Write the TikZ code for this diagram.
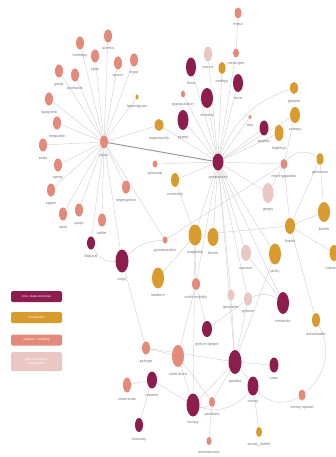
\documentclass[tikz,border=0pt]{standalone}
\usepackage{fontspec}
\setmainfont{Liberation Sans}
\usetikzlibrary{shapes.geometric,backgrounds}
\definecolor{coreC}{HTML}{8C1D4E}
\definecolor{vizC}{HTML}{D99A2E}
\definecolor{anaC}{HTML}{E38A7B}
\definecolor{extC}{HTML}{EBC7C3}
\definecolor{lblC}{HTML}{7A7A7A}
\definecolor{edgeC}{HTML}{D0D0D0}
\definecolor{thickC}{HTML}{9A9A9A}
\tikzset{
  nd/.style={ellipse, inner sep=0pt, draw=none},
  core/.style={nd, fill=coreC},
  viz/.style={nd, fill=vizC},
  ana/.style={nd, fill=anaC},
  ext/.style={nd, fill=extC},
  lbl/.style={font=\fontsize{3.8}{4}\selectfont, text=lblC, inner sep=0.5pt},
  e/.style={draw=edgeC, line width=0.4pt},
  ethick/.style={draw=thickC, line width=1pt},
  legbox/.style={rounded corners=1.5pt, minimum width=51pt, inner sep=0.5pt, text=white, align=center, font=\fontsize{3.1}{3.6}\selectfont},
}
\newcommand\nd[7]{\node[#1, minimum width=#5pt, minimum height=#6pt, label={[lbl, label distance=4.5pt]below:#7}] (#2) at (#3,#4) {};}
\begin{document}
\begin{tikzpicture}[x=1pt, y=-1pt]
\useasboundingbox (0,0) rectangle (335,457);
% pysal cluster
\nd{ana}{pysal}{104}{142}{8}{13}{pysal}
\nd{ana}{momepy}{80}{43}{8}{13}{momepy}
\nd{ana}{access}{108}{36}{8}{13}{access}
\nd{ana}{splot}{95}{56}{8}{13}{splot}
\nd{ana}{spvcm}{118}{63}{8}{13}{spvcm}
\nd{ana}{mgwr}{134}{60}{8}{13}{mgwr}
\nd{ana}{giddy}{59}{71}{8}{13}{giddy}
\nd{ana}{pointpats}{75}{75}{8}{13}{pointpats}
\nd{viz}{legendgram}{137}{97}{3}{5}{legendgram}
\nd{ana}{spaghetti}{49}{99}{8}{13}{spaghetti}
\nd{ana}{inequality}{57}{123}{8}{13}{inequality}
\nd{ana}{esda}{43}{145}{8}{13}{esda}
\nd{ana}{spreg}{58}{165}{8}{13}{spreg}
\nd{ana}{spglm}{51}{190}{8}{13}{spglm}
\nd{ana}{spint}{63}{214}{8}{13}{spint}
\nd{ana}{spopt}{79}{210}{8}{13}{spopt}
\nd{ana}{tobler}{102}{220}{8}{13}{tobler}
\nd{ana}{segregation}{126}{187}{8}{13}{segregation}
\nd{viz}{mapclassify}{159}{125}{9}{12}{mapclassify}
\nd{ana}{geosnap}{155}{164}{5}{7}{geosnap}
\nd{core}{libpysal}{91}{243}{8}{13}{libpysal}
\nd{core}{scipy}{122}{261}{13}{23}{scipy}
% geopandas cluster
\nd{core}{geopandas}{218}{162}{11}{17}{geopandas}
\nd{ana}{mesa}{238}{13}{7}{11}{mesa}
\nd{ext}{osmnx}{208}{54}{8}{15}{osmnx}
\nd{ana}{mesageo}{236}{53}{6}{9}{mesa-geo}
\nd{viz}{earthpy}{222}{68}{7}{12}{earthpy}
\nd{core}{fiona}{191}{67}{10}{19}{fiona}
\nd{core}{rtree}{238}{83}{10}{18}{rtree}
\nd{ana}{pypop}{183}{94}{4}{7}{pypopulation}
\nd{core}{shapely}{207}{98}{12}{20}{shapely}
\nd{core}{pyproj}{183}{120}{11}{20}{pyproj}
\nd{ana}{rtay}{250}{117}{3}{4}{rtay}
\nd{core}{pygeos}{264}{128}{9}{15}{pygeos}
\nd{viz}{keplergl}{279}{133}{9}{16}{keplergl}
\nd{viz}{geoplot}{294}{88}{8}{12}{geoplot}
\nd{viz}{cartopy}{295}{115}{10}{16}{cartopy}
\nd{ana}{movingpandas}{284}{164}{7}{10}{movingpandas}
\nd{viz}{geoviews}{320}{159}{7}{12}{geoviews}
\nd{viz}{contextily}{175}{180}{8}{14}{contextily}
\nd{ext}{geopy}{268}{193}{11}{20}{geopy}
\nd{viz}{bokeh}{324}{212}{12}{20}{bokeh}
\nd{viz}{hvplot}{290}{226}{10}{16}{hvplot}
\nd{viz}{holoviews}{334}{253}{9}{16}{holoviews}
\nd{viz}{matplotlib}{195}{235}{13}{21}{matplotlib}
\nd{viz}{folium}{213}{237}{11}{18}{folium}
\nd{ana}{pyinterpolate}{165}{240}{5}{7}{pyinterpolate}
\nd{ext}{osmium}{246}{253}{10}{16}{osmium}
\nd{viz}{plotly}{275}{254}{12}{21}{plotly}
\nd{viz}{seaborn}{158}{278}{12}{21}{seaborn}
\nd{ana}{skmob}{196}{284}{8}{12}{scikit-mobility}
\nd{ext}{geocoder}{231}{295}{7}{11}{geocoder}
\nd{ext}{pyrosm}{248}{299}{8}{13}{pyrosm}
\nd{core}{networkx}{283}{303}{12}{22}{networkx}
\nd{viz}{datashader}{316}{320}{8}{14}{datashader}
\nd{core}{igraph}{207}{329}{10}{16}{python-igraph}
\nd{ana}{pykrige}{146}{348}{8}{13}{pykrige}
\nd{ana}{sklearn}{178}{356}{12}{22}{scikit-learn}
\nd{core}{pandas}{235}{362}{13}{24}{pandas}
\nd{core}{vaex}{274}{365}{9}{15}{vaex}
\nd{ana}{rasterstats}{127}{385}{8}{15}{rasterstats}
\nd{core}{rasterio}{152}{380}{10}{17}{rasterio}
\nd{core}{xarray}{253}{386}{11}{19}{xarray}
\nd{ana}{xspatial}{302}{395}{7}{11}{xarray-spatial}
\nd{core}{numpy}{193}{405}{13}{23}{numpy}
\nd{ana}{pandana}{212}{402}{6}{10}{pandana}
\nd{core}{rioxarray}{139}{425}{8}{14}{rioxarray}
\nd{viz}{xleaf}{259}{432}{6}{10}{xarray\_leaflet}
\nd{ana}{urbanaccess}{209}{441}{5}{8}{urbanaccess}
% legend
\node[legbox, fill=coreC, minimum height=11pt] (lg1) at (36.5,296.5) {core / data structures};
\node[legbox, fill=vizC, minimum height=11pt] (lg2) at (36.5,317.5) {visualization};
\node[legbox, fill=anaC, minimum height=11pt] (lg3) at (36.5,340) {analysis / modeling};
\node[legbox, fill=extC, minimum height=19pt] (lg4) at (36.5,361.5) {data extraction /\\ manipulation};
\begin{pgfonlayer}{background}
\fill[white] (0,0) rectangle (335,457);
\foreach \b in {momepy,access,splot,spvcm,mgwr,giddy,pointpats,legendgram,spaghetti,inequality,esda,spreg,spglm,spint,spopt,tobler,segregation,mapclassify,libpysal,scipy,pyinterpolate}
  \draw[e] (pysal) -- (\b);
\draw[ethick] (pysal) -- (geopandas);
\foreach \b in {mesageo,osmnx,earthpy,fiona,rtree,pypop,shapely,pyproj,rtay,pygeos,keplergl,cartopy,movingpandas,mapclassify,geosnap,contextily,geopy,matplotlib,folium,osmium,geocoder,pyrosm,skmob,pandas,networkx,plotly}
  \draw[e] (geopandas) -- (\b);
\draw[e] (geopandas) to[bend left=25] (geoplot);
\draw[e] (mesa) -- (mesageo);
\draw[e] (movingpandas) to[bend left=45] (geoviews);
\foreach \a/\b in {cartopy/movingpandas, movingpandas/hvplot, movingpandas/geopy, hvplot/matplotlib, hvplot/bokeh, hvplot/holoviews, hvplot/datashader, hvplot/geoviews, geoviews/bokeh, contextily/matplotlib, seaborn/matplotlib, matplotlib/numpy, matplotlib/skmob, pyinterpolate/movingpandas, scipy/pykrige, osmium/networkx, pyrosm/igraph, skmob/igraph, skmob/sklearn, plotly/pandas, pandas/vaex, pandas/xarray, pandas/numpy, pandas/pandana, pandas/pyrosm, pandas/geocoder, numpy/sklearn, numpy/rasterio, xarray/xleaf, pandana/urbanaccess, pandana/sklearn, rasterio/rasterstats, rasterio/rioxarray, pykrige/sklearn, pykrige/pandas}
  \draw[e] (\a) -- (\b);
\draw[e] (scipy) to[bend left=20] (pyinterpolate);
\draw[e] (libpysal) to[bend right=35] (scipy);
\draw[e] (pyrosm) to[bend left=30] (networkx);
\draw[e] (numpy) to[bend right=30] (pandana);
\draw[e] (numpy) to[bend right=35] (xarray);
\draw[e] (xarray) to[bend right=40] (xspatial);
\draw[e] (datashader) to[bend left=40] (xspatial);
\end{pgfonlayer}
\end{tikzpicture}
\end{document}
